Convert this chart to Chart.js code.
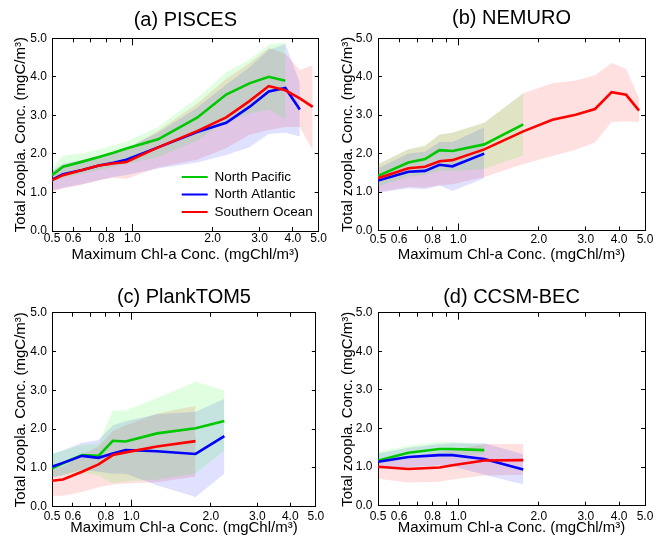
<!DOCTYPE html>
<html><head><meta charset="utf-8">
<script src="https://cdn.jsdelivr.net/npm/chart.js@4.4.1/dist/chart.umd.min.js"></script>
<style>
html,body{margin:0;padding:0;background:#fff;width:662px;height:539px;overflow:hidden}
canvas{position:absolute}
</style></head><body>
<canvas id="pa" width="331" height="270" style="left:0;top:0"></canvas>
<canvas id="pb" width="331" height="270" style="left:331px;top:0"></canvas>
<canvas id="pc" width="331" height="269" style="left:0;top:270px"></canvas>
<canvas id="pd" width="331" height="269" style="left:331px;top:270px"></canvas>
<script>
// ---------- data ----------
const tickValues = [0.5, 0.6, 0.7, 0.8, 0.9, 1, 2, 3, 4, 5];
const majorTickValues = [1];
const labelledTicks = [0.5, 0.6, 0.8, 1, 2, 3, 4, 5];
const regionNames = ['North Pacific', 'North Atlantic', 'Southern Ocean'];
const panelTitles = ['(a) PISCES', '(b) NEMURO', '(c) PlankTOM5', '(d) CCSM-BEC'];

// (a) PISCES
const xsA = [0.5, 0.55, 0.65, 0.75, 0.85, 0.95, 1.25, 1.75, 2.25, 2.75, 3.25, 3.75, 4.25, 4.75];
const piscesNP   = [1.45, 1.67, 1.80, 1.92, 2.03, 2.14, 2.38, 2.94, 3.54, 3.83, 4.00, 3.90];
const piscesNPHi = [1.62, 1.95, 2.02, 2.12, 2.22, 2.32, 2.70, 3.45, 4.12, 4.45, 4.83, 4.90];
const piscesNPLo = [1.25, 1.38, 1.48, 1.58, 1.66, 1.74, 1.92, 2.35, 2.85, 3.05, 3.15, 2.90];
const piscesNA   = [1.33, 1.47, 1.58, 1.70, 1.77, 1.85, 2.17, 2.57, 2.81, 3.22, 3.62, 3.71, 3.15];
const piscesNAHi = [1.55, 1.75, 1.85, 1.95, 2.05, 2.15, 2.55, 3.20, 3.80, 4.25, 4.70, 4.85, 3.85];
const piscesNALo = [1.05, 1.12, 1.22, 1.32, 1.40, 1.45, 1.62, 1.78, 1.97, 2.17, 2.52, 2.55, 2.45];
const piscesSO   = [1.32, 1.45, 1.58, 1.70, 1.75, 1.79, 2.17, 2.59, 2.95, 3.37, 3.76, 3.65, 3.44, 3.22];
const piscesSOHi = [1.55, 1.72, 1.82, 1.92, 2.02, 2.12, 2.60, 3.30, 3.95, 4.35, 4.75, 4.60, 4.18, 4.30];
const piscesSOLo = [1.02, 1.10, 1.20, 1.32, 1.38, 1.35, 1.65, 1.85, 2.15, 2.50, 2.62, 2.70, 2.70, 2.10];

// (b) NEMURO
const xsB = [0.5, 0.65, 0.75, 0.85, 0.95, 1.25, 1.75, 2.25, 2.75, 3.25, 3.75, 4.25, 4.75];
const nemuroNP   = [1.42, 1.77, 1.86, 2.09, 2.07, 2.24, 2.76];
const nemuroNPHi = [1.72, 2.12, 2.22, 2.50, 2.55, 2.80, 3.58];
const nemuroNPLo = [1.15, 1.40, 1.45, 1.55, 1.55, 1.60, 1.95];
const nemuroNA   = [1.30, 1.53, 1.55, 1.71, 1.67, 2.00];
const nemuroNAHi = [1.62, 2.00, 2.05, 2.30, 2.30, 2.68];
const nemuroNALo = [0.98, 1.10, 1.07, 1.17, 1.03, 1.36];
const nemuroSO   = [1.36, 1.62, 1.66, 1.80, 1.83, 2.11, 2.58, 2.88, 3.01, 3.16, 3.60, 3.53, 3.12];
const nemuroSOHi = [1.73, 2.11, 2.20, 2.50, 2.54, 2.80, 3.57, 3.83, 3.90, 4.04, 4.36, 4.21, 3.44];
const nemuroSOLo = [1.00, 1.13, 1.12, 1.17, 1.20, 1.39, 1.73, 1.94, 2.10, 2.29, 2.82, 2.84, 2.82];

// (c) PlankTOM5
const xsC = [0.5, 0.55, 0.65, 0.75, 0.85, 0.95, 1.25, 1.75, 2.25];
const plankNP   = [0.99, 1.12, 1.33, 1.31, 1.70, 1.68, 1.89, 2.02, 2.21];
const plankNPHi = [1.38, 1.45, 1.60, 1.62, 2.48, 2.48, 2.80, 3.22, 3.00];
const plankNPLo = [0.78, 0.80, 0.88, 0.80, 0.60, 0.65, 0.70, 0.85, 1.45];
const plankNA   = [1.03, 1.13, 1.31, 1.26, 1.37, 1.46, 1.43, 1.36, 1.82];
const plankNAHi = [1.35, 1.45, 1.65, 1.72, 2.10, 2.20, 2.38, 2.45, 2.78];
const plankNALo = [0.75, 0.82, 0.95, 0.90, 0.85, 0.85, 0.55, 0.25, 0.85];
const plankSO   = [0.67, 0.70, 0.90, 1.09, 1.33, 1.40, 1.55, 1.69];
const plankSOHi = [0.95, 1.05, 1.35, 1.55, 1.95, 2.10, 2.40, 2.60];
const plankSOLo = [0.28, 0.28, 0.38, 0.50, 0.57, 0.60, 0.63, 0.78];

// (d) CCSM-BEC
const xsD = [0.5, 0.65, 0.85, 0.95, 1.25, 1.75];
const ccsmNP   = [1.17, 1.37, 1.47, 1.47, 1.44];
const ccsmNPHi = [1.40, 1.55, 1.65, 1.65, 1.58];
const ccsmNPLo = [1.08, 1.22, 1.30, 1.32, 1.33];
const ccsmNA   = [1.14, 1.26, 1.31, 1.31, 1.21, 0.94];
const ccsmNAHi = [1.35, 1.50, 1.60, 1.62, 1.62, 1.33];
const ccsmNALo = [0.95, 1.00, 1.05, 1.02, 0.80, 0.55];
const ccsmSO   = [1.01, 0.95, 0.99, 1.05, 1.17, 1.18];
const ccsmSOHi = [1.20, 1.28, 1.40, 1.45, 1.60, 1.60];
const ccsmSOLo = [0.70, 0.60, 0.62, 0.68, 0.78, 0.80];

// ---------- styling ----------
const FONT = "'Liberation Sans', Arial, Helvetica, sans-serif";
const lineColors = ['rgb(0,200,0)', 'rgb(0,0,255)', 'rgb(255,0,0)'];
const bandColors = ['rgba(0,255,0,0.12)', 'rgba(0,0,255,0.12)', 'rgba(255,0,0,0.12)'];

function pts(xs, ys) { return ys.map((y, i) => ({x: xs[i], y: y})); }

function setTicks(s) { s.ticks = tickValues.map(v => ({value: v})); }
function setMajorTicks(s) { s.ticks = majorTickValues.map(v => ({value: v})); }

function build(id, title, xs, series, L) {
  const datasets = [];
  series.forEach((s, i) => {
    datasets.push({label: regionNames[i], data: pts(xs, s.mean), borderColor: lineColors[i],
      backgroundColor: lineColors[i], borderWidth: 2.6, pointRadius: 0, fill: false, order: 3 - i, tension: 0});
  });
  series.forEach((s, i) => {
    const idx = datasets.length;
    datasets.push({label: 'hi', data: pts(xs, s.hi), borderColor: 'rgba(0,0,0,0)', borderWidth: 0,
      backgroundColor: bandColors[i], pointRadius: 0, fill: idx + 1, order: 10 + i});
    datasets.push({label: 'lo', data: pts(xs, s.lo), borderColor: 'rgba(0,0,0,0)', borderWidth: 0,
      backgroundColor: 'rgba(0,0,0,0)', pointRadius: 0, fill: false, order: 10 + i});
  });
  const gridOpt = {display: true, drawOnChartArea: false, drawTicks: true, tickLength: -4, color: '#000', tickColor: '#000', lineWidth: 1};
  const majorGrid = {display: true, drawOnChartArea: false, drawTicks: true, tickLength: -7, color: '#000', tickColor: '#000', lineWidth: 1};
  const borderOpt = {display: true, color: '#000', width: 1};
  const noBorder = {display: false};
  const tickFont = {family: FONT, size: 12};
  const titleFont = {family: FONT, size: 15};
  const mover = {
    id: 'mover',
    afterLayout(chart) {
      const lg = chart.legend;
      if (L.legend && lg) {
        lg.left = L.legend.left;
        lg.top = L.legend.top;
        lg.right = chart.width;
        lg.bottom = L.legend.top + lg.height + 40;
      }
    }
  };
  return new Chart(document.getElementById(id), {
    type: 'line',
    data: {datasets},
    plugins: [mover],
    options: {
      responsive: false, animation: false, events: [],
      layout: {padding: 0},
      scales: {
        x: {type: 'logarithmic', min: 0.5, max: 5, position: 'bottom', weight: 1,
          afterBuildTicks: setTicks,
          afterFit: s => { s.height = L.xH; },
          ticks: {autoSkip: false, maxRotation: 0, minRotation: 0, padding: L.xTickPad, color: '#000', font: tickFont,
            callback: v => labelledTicks.includes(v) ? v.toFixed(1) : ''},
          grid: gridOpt, border: borderOpt,
          title: {display: true, text: 'Maximum Chl-a Conc. (mgChl/m³)', color: '#000', font: titleFont,
            padding: {top: 0, bottom: L.xTitlePad}}},
        xMajor: {type: 'logarithmic', min: 0.5, max: 5, position: 'bottom', weight: 0,
          afterBuildTicks: setMajorTicks,
          afterFit: s => { s.height = 0; },
          ticks: {display: false}, grid: majorGrid, border: noBorder},
        x2: {type: 'logarithmic', min: 0.5, max: 5, position: 'top', weight: 1,
          afterBuildTicks: setTicks,
          afterFit: s => { s.height = L.x2H; },
          ticks: {display: false}, grid: gridOpt, border: borderOpt},
        x2Major: {type: 'logarithmic', min: 0.5, max: 5, position: 'top', weight: 0,
          afterBuildTicks: setMajorTicks,
          afterFit: s => { s.height = 0; },
          ticks: {display: false}, grid: majorGrid, border: noBorder},
        y: {type: 'linear', min: 0, max: 5, position: 'left',
          afterFit: s => { s.width = L.yW; },
          ticks: {stepSize: 1, padding: L.yTickPad, color: '#000', font: tickFont, callback: v => v.toFixed(1)},
          grid: gridOpt, border: borderOpt,
          title: {display: true, text: 'Total zoopla. Conc. (mgC/m³)', color: '#000', font: titleFont,
            padding: {top: L.yTitlePad, bottom: 0}}},
        y2: {type: 'linear', min: 0, max: 5, position: 'right',
          afterFit: s => { s.width = L.y2W; },
          ticks: {display: false, stepSize: 1}, grid: gridOpt, border: borderOpt}
      },
      plugins: {
        title: {display: true, text: title, fullSize: false, color: '#000',
          font: {family: FONT, size: 20, weight: 'normal'}, padding: {top: L.titleTop, bottom: 0}},
        legend: {display: !!L.legend, position: 'chartArea', align: 'start',
          labels: {usePointStyle: true, pointStyle: 'line', pointStyleWidth: 26, boxHeight: 13.5, padding: 4,
            color: '#000', font: {family: FONT, size: 13.5},
            filter: item => item.datasetIndex < 3,
            sort: (a, b) => a.datasetIndex - b.datasetIndex,
            generateLabels: chart => {
              const items = Chart.defaults.plugins.legend.labels.generateLabels(chart);
              items.forEach(it => { it.lineWidth = 2; });
              return items;
            }}},
        tooltip: {enabled: false}
      }
    }
  });
}

build('pa', panelTitles[0], xsA, [
  {mean: piscesNP, hi: piscesNPHi, lo: piscesNPLo},
  {mean: piscesNA, hi: piscesNAHi, lo: piscesNALo},
  {mean: piscesSO, hi: piscesSOHi, lo: piscesSOLo}],
  {yW: 52, y2W: 9, titleTop: 8.5, x2H: 5.8, xH: 39, xTickPad: 4, xTitlePad: 6, yTitlePad: 11.5, yTickPad: 9,
   legend: {left: 177.7, top: 166.2}});

build('pb', panelTitles[1], xsB, [
  {mean: nemuroNP, hi: nemuroNPHi, lo: nemuroNPLo},
  {mean: nemuroNA, hi: nemuroNAHi, lo: nemuroNALo},
  {mean: nemuroSO, hi: nemuroSOHi, lo: nemuroSOLo}],
  {yW: 47, y2W: 17, titleTop: 6.3, x2H: 8.0, xH: 39.5, xTickPad: 5.6, xTitlePad: 6, yTitlePad: 7.7, yTickPad: 9.5});

build('pc', panelTitles[2], xsC, [
  {mean: plankNP, hi: plankNPHi, lo: plankNPLo},
  {mean: plankNA, hi: plankNAHi, lo: plankNALo},
  {mean: plankSO, hi: plankSOHi, lo: plankSOLo}],
  {yW: 52, y2W: 9, titleTop: 15.3, x2H: 3.4, xH: 32.3, xTickPad: 6.8, xTitlePad: 1.7, yTitlePad: 11.5, yTickPad: 9});

build('pd', panelTitles[3], xsD, [
  {mean: ccsmNP, hi: ccsmNPHi, lo: ccsmNPLo},
  {mean: ccsmNA, hi: ccsmNAHi, lo: ccsmNALo},
  {mean: ccsmSO, hi: ccsmSOHi, lo: ccsmSOLo}],
  {yW: 47, y2W: 17, titleTop: 15.3, x2H: 3.4, xH: 33.3, xTickPad: 7.8, xTitlePad: 1.7, yTitlePad: 8.3, yTickPad: 9.5});
</script>
</body></html>
